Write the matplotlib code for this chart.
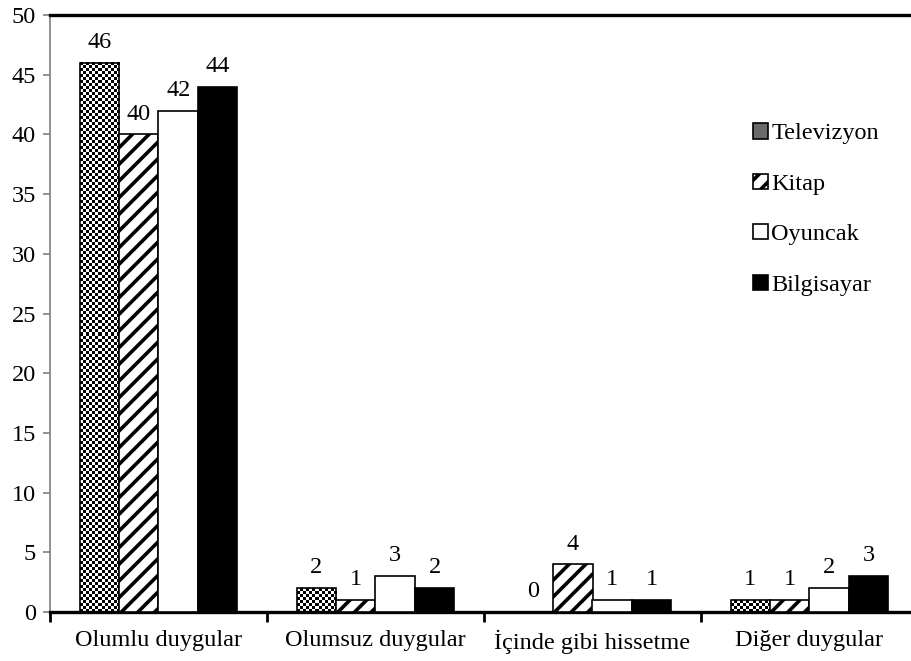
import numpy as np
import matplotlib
matplotlib.use('Agg')
import matplotlib.pyplot as plt
from matplotlib.patches import Patch

# data
categories = ['Olumlu duygular', 'Olumsuz duygular', 'İçinde gibi hissetme', 'Diğer duygular']
series_names = ['Televizyon', 'Kitap', 'Oyuncak', 'Bilgisayar']
televizyon = [46, 2, 0, 1]
kitap = [40, 1, 4, 1]
oyuncak = [42, 3, 1, 2]
bilgisayar = [44, 2, 1, 3]
y_ticks = [0, 5, 10, 15, 20, 25, 30, 35, 40, 45, 50]

plt.rcParams['font.family'] = ['Liberation Serif', 'DejaVu Serif']
plt.rcParams['hatch.linewidth'] = 2.6
fs = 17.5

fig = plt.figure(figsize=(9.12, 6.61), dpi=100)
ax = fig.add_axes([50 / 912, 49 / 661, 868 / 912, 597 / 661])

x = np.arange(len(categories))
w = 0.182
offsets = [-1.5, -0.5, 0.5, 1.5]

ax.set_xlim(-0.5, 3.5)
ax.set_ylim(0, 50)

# Televizyon: checkerboard fill drawn as small images inside each bar
tv_bars = ax.bar(x + offsets[0] * w, televizyon, w, facecolor='none',
                 edgecolor='black', linewidth=1.2, zorder=3)
px_x = ax.transData.transform((1, 0))[0] - ax.transData.transform((0, 0))[0]
px_y = ax.transData.transform((0, 1))[1] - ax.transData.transform((0, 0))[1]
cell = 3.0
for xi, val in zip(x + offsets[0] * w, televizyon):
    if val <= 0:
        continue
    nx = max(1, int(round(w * px_x / cell)))
    ny = max(1, int(round(val * px_y / cell)))
    ii, jj = np.indices((ny, nx))
    img = ((ii + jj) % 2).astype(float)
    ax.imshow(img, cmap='gray', vmin=0, vmax=1, interpolation='nearest',
              extent=(xi - w / 2, xi + w / 2, 0, val), aspect='auto',
              origin='lower', zorder=2)

kt_bars = ax.bar(x + offsets[1] * w, kitap, w, facecolor='white',
                 edgecolor='black', hatch='//', linewidth=1.2, zorder=3)
oy_bars = ax.bar(x + offsets[2] * w, oyuncak, w, facecolor='white',
                 edgecolor='black', linewidth=1.2, zorder=3)
bg_bars = ax.bar(x + offsets[3] * w, bilgisayar, w, facecolor='black',
                 edgecolor='black', linewidth=1.2, zorder=3)

for bars in [tv_bars, kt_bars, oy_bars, bg_bars]:
    ax.bar_label(bars, padding=7, fontsize=fs)

ax.set_xlim(-0.5, 3.5)
ax.set_ylim(0, 50)

# axes styling
ax.spines['right'].set_visible(False)
ax.spines['top'].set_linewidth(2.4)
ax.spines['bottom'].set_linewidth(2.4)
ax.spines['left'].set_color('#7f7f7f')
ax.spines['left'].set_linewidth(1.2)

ax.set_yticks(y_ticks)
ax.tick_params(axis='y', length=5, width=1.2, color='#7f7f7f', labelsize=fs, pad=5)

ax.set_xticks([-0.5, 0.5, 1.5, 2.5])
ax.set_xticklabels([])
ax.tick_params(axis='x', which='major', length=7, width=2, color='black')
ax.set_xticks(x, minor=True)
ax.set_xticklabels(categories, minor=True, fontsize=fs)
ax.tick_params(axis='x', which='minor', length=0, pad=13)

handles = [
    Patch(facecolor='#6a6a6a', edgecolor='black', linewidth=1.2),
    Patch(facecolor='white', edgecolor='black', hatch='//', linewidth=1.2),
    Patch(facecolor='white', edgecolor='black', linewidth=1.2),
    Patch(facecolor='black', edgecolor='black', linewidth=1.2),
]
ax.legend(handles, series_names, loc='upper left', bbox_to_anchor=(741 / 912, 1 - 111 / 661),
          bbox_transform=fig.transFigure, frameon=False, fontsize=fs,
          handlelength=0.6, handleheight=0.6, handletextpad=0.15,
          labelspacing=1.2, borderpad=0)

fig.savefig('out.png', dpi=100)
